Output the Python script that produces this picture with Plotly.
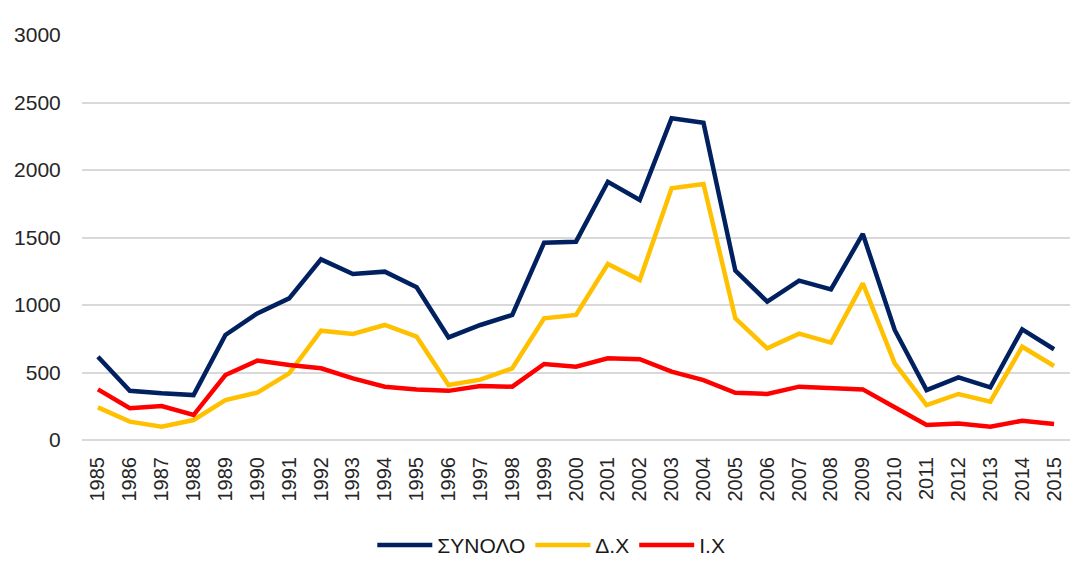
import plotly.graph_objects as go

years = [str(y) for y in range(1985, 2016)]
synolo = [617, 365, 346, 333, 778, 938, 1049, 1338, 1230, 1247, 1131, 760, 852, 926,
          1462, 1469, 1913, 1778, 2383, 2350, 1254, 1025, 1180, 1116, 1526, 815, 370,
          464, 390, 820, 672]
dx = [242, 136, 99, 148, 296, 351, 494, 810, 785, 852, 765, 407, 447, 531,
      901, 926, 1304, 1185, 1864, 1896, 901, 679, 788, 721, 1160, 568, 259,
      341, 284, 691, 548]
ix = [375, 235, 252, 185, 481, 588, 556, 531, 457, 395, 375, 364, 400, 395,
      563, 543, 605, 598, 506, 444, 350, 341, 395, 383, 375, 242, 111,
      123, 99, 143, 119]

series = [("ΣΥΝΟΛΟ", synolo, "#002060"), ("Δ.Χ", dx, "#FFC000"), ("Ι.Χ", ix, "#FF0000")]

fig = go.Figure()
for name, vals, col in series:
    fig.add_trace(go.Scatter(x=years, y=vals, name=name, mode="lines",
                             line=dict(color=col, width=4.5)))

font_family = "Liberation Sans, Arial"
fig.update_layout(
    width=1080, height=572, autosize=False,
    margin=dict(l=74, r=18, t=27, b=140, autoexpand=False),
    paper_bgcolor="white", plot_bgcolor="white",
    font=dict(family=font_family, color="#262626", size=18),
    legend=dict(orientation="h", x=0.475, xanchor="center",
                y=-0.26, yanchor="middle", itemwidth=55,
                font=dict(size=21, color="#1a1a1a")),
    showlegend=True,
)
fig.update_xaxes(type="category", range=[-0.5, 30.5], tickangle=-90, dtick=1,
                 showgrid=False, showline=False, ticks="outside", ticklen=8,
                 tickcolor="rgba(0,0,0,0)", tickfont=dict(size=20), automargin=False)
fig.update_yaxes(range=[0, 3000], dtick=500, showgrid=True, gridcolor="#D9D9D9",
                 gridwidth=1.5, zeroline=True, zerolinecolor="#D9D9D9", zerolinewidth=1.5,
                 showline=False, ticks="outside", ticklen=16, tickcolor="rgba(0,0,0,0)",
                 tickfont=dict(size=21), automargin=False)

fig.write_html("out.html")
